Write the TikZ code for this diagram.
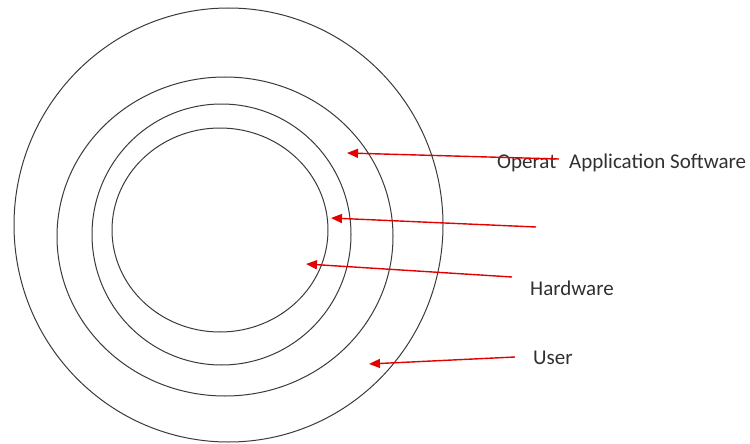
\documentclass[tikz,border=0pt]{standalone}
\usepackage{fontspec}
\setmainfont{Carlito}
\usepackage{tikz}
\usetikzlibrary{arrows.meta, positioning}
\tikzset{>={Triangle[length=11pt,width=9pt]}}
\definecolor{ringgray}{HTML}{3A3A3A}
\definecolor{txtgray}{HTML}{303030}
\tikzset{
  ring/.style={draw=ringgray, line width=1pt},
  pointer/.style={->, draw=red!90!black, fill=red!90!black, line width=1.4pt},
  layername/.style={anchor=west, inner sep=0pt, text=txtgray, font=\fontsize{21}{24}\selectfont}
}

\begin{document}
\begin{tikzpicture}[x=1pt,y=-1pt]
			\useasboundingbox (0,0) rectangle (750,444);
			% rings
			\draw [ring] (228.5,225) ellipse [x radius=214.5pt, y radius=217pt];
			\draw [ring] (225,236.5) ellipse [x radius=168pt, y radius=159.5pt];
			\draw [ring] (221.5,234.5) ellipse [x radius=129.5pt, y radius=130.5pt];
			\draw [ring] (220,230) ellipse [x radius=108pt, y radius=102pt];
			% labels
			\node [layername] (os) at (497,163) {Operat};
			\node [layername] (app) at (569,163) {Application Software};
			\node [layername] (hw) at (530,288) {Hardware};
			\node [layername] (user) at (533,358) {User};
			% arrow ends
			\coordinate (t1) at (347,153);
			\coordinate (s1) at (559,159);
			\coordinate (t2) at (331,218);
			\coordinate (s2) at (536,227);
			\coordinate (t3) at (306,264);
			\coordinate (s3) at (512,277);
			\coordinate (t4) at (369,364);
			\coordinate (s4) at (515,357);
			\draw [pointer] (s1) -- (t1);
			\draw [pointer] (s2) -- (t2);
			\draw [pointer] (s3) -- (t3);
			\draw [pointer] (s4) -- (t4);
		\end{tikzpicture}
\end{document}
